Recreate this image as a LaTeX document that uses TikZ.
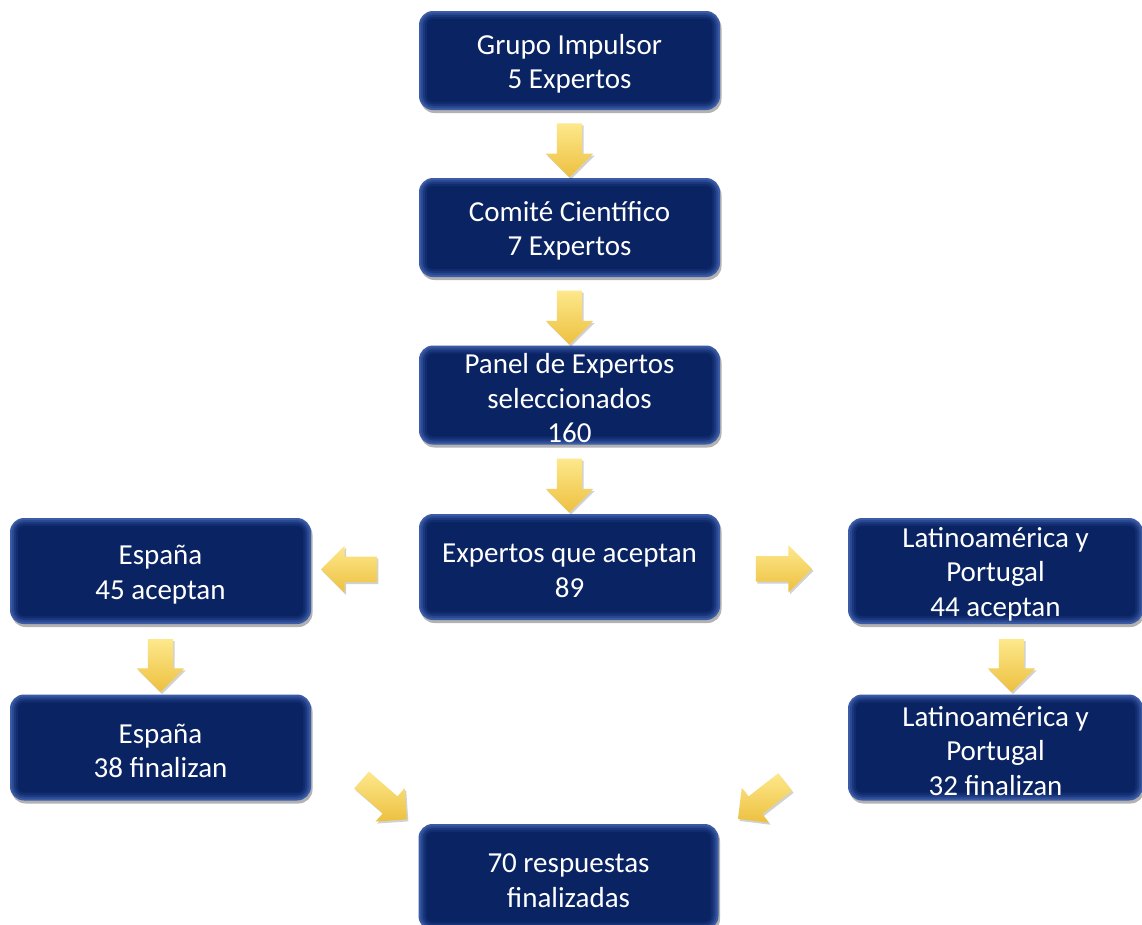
\documentclass[tikz,border=0pt]{standalone}
\usepackage{fontspec}
\setmainfont{Carlito}
\usetikzlibrary{shapes.arrows,shadows,calc}
\definecolor{navy}{HTML}{0A2362}
\definecolor{edgeA}{HTML}{3B5BA6}
\definecolor{edgeB}{HTML}{2A4991}
\definecolor{edgeC}{HTML}{1B387E}
\definecolor{edgeD}{HTML}{112C6F}
\definecolor{ylight}{HTML}{FDE88C}
\definecolor{ydark}{HTML}{EDC03F}
\newcommand{\tstrut}{\rule{0pt}{26.5pt}}
\tikzset{
  bevel/.style={
    path picture={
      \foreach \k/\c/\r in {2/edgeB/12,4/edgeC/10,6/edgeD/8,8/navy/6}
        \fill[\c, rounded corners=\r pt]
          ([xshift=\k pt,yshift=-\k pt]path picture bounding box.north west)
          rectangle ([xshift=-\k pt,yshift=\k pt]path picture bounding box.south east);
    }},
  box/.style={rounded corners=14pt, minimum width=301pt, minimum height=#1,
    inner sep=0pt, text=white, align=center,
    font=\fontsize{29}{34.5}\selectfont,
    fill=edgeA, bevel,
    drop shadow={shadow xshift=1.5pt, shadow yshift=-3pt, opacity=0.3, fill=black}},
  box/.default=99pt,
  yarr/.style={single arrow, single arrow head extend=11pt,
    inner xsep=0pt, inner ysep=12.5pt, minimum width=0pt,
    minimum height=#1, draw=none,
    top color=ylight, bottom color=ydark,
    drop shadow={shadow xshift=1.5pt, shadow yshift=-2pt, opacity=0.18, fill=black}},
  ydown/.style={yarr=#1, rotate=-90},
  yleft/.style={yarr=#1, rotate=180},
  yright/.style={yarr=#1},
}
\begin{document}
\begin{tikzpicture}[x=1pt,y=-1pt]
\clip (0,0) rectangle (1142,924);
\fill[white] (0,0) rectangle (1142,924);

\node[box] (g1) at (569.5,60.5) {\tstrut Grupo Impulsor\\5 Expertos};
\node[box] (g2) at (569.5,227.5) {\tstrut Comité Científico\\7 Expertos};
\node[box] (g3) at (569.5,395) {\tstrut Panel de Expertos\\seleccionados\\160};
\node[box=106pt] (g4) at (569.5,567) {\tstrut Expertos que aceptan\\89};
\node[box=106pt] (e1) at (160.5,571) {\tstrut España\\45 aceptan};
\node[box=106pt, minimum width=295pt] (l1) at (995.5,571) {\tstrut Latinoamérica y\\Portugal\\44 aceptan};
\node[box=106pt] (e2) at (160.5,747.5) {\tstrut España\\38 finalizan};
\node[box=106pt, minimum width=295pt] (l2) at (995.5,747.5) {\tstrut Latinoamérica y\\Portugal\\32 finalizan};
\node[box=106pt, minimum width=300pt] (f) at (568.5,877) {\tstrut 70 respuestas\\finalizadas};

\node[ydown=54pt] (a1) at ($(g1.south)!0.5!(g2.north)$) {};
\node[ydown=54pt] (a2) at ($(g2.south)!0.5!(g3.north)$) {};
\node[ydown=54pt] (a3) at ($(g3.south)!0.5!(g4.north)$) {};
\node[yleft=56pt] (aL) at ($(e1.east)!0.41!(g4.west)$) {};
\node[yright=56pt] (aR) at ($(g4.east)!0.45!(l1.west)$) {};
\node[ydown=53pt] (aE) at ($(e1.south)!0.5!(e2.north)$) {};
\node[ydown=53pt] (aP) at ($($(l1.south)!0.5!(l2.north)$)+(16,0)$) {};
\node[yarr=60pt, inner ysep=11pt, rotate=-41] (dL) at (380,796) {};
\node[yarr=60pt, inner ysep=11pt, rotate=-142] (dR) at (766,797) {};
\end{tikzpicture}
\end{document}
